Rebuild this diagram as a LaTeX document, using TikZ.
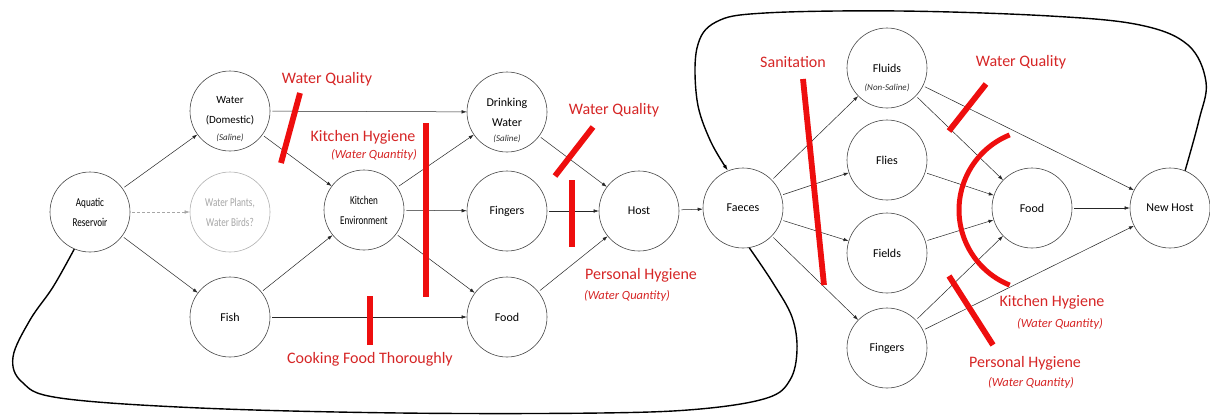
\documentclass[tikz,border=0pt]{standalone}
\usepackage{fontspec}
\setmainfont{Carlito}
\newfontfamily\condfont[FakeStretch=0.76]{Carlito}
\usetikzlibrary{arrows.meta}
\definecolor{lblred}{RGB}{214,38,38}
\definecolor{barred}{RGB}{238,14,14}
\tikzset{
  circ/.style={circle, draw=black!72, line width=0.6pt, minimum size=80pt, inner sep=0pt, align=center, font=\fontsize{12}{20}\selectfont},
  condcirc/.style={circ, font=\condfont\fontsize{12}{20}\selectfont},
  ghost/.style={circ, draw=black!30, text=black!35, font=\condfont\fontsize{12}{20}\selectfont},
  sub/.style={inner sep=0pt, font=\fontsize{9}{10}\selectfont\itshape, text=black!80},
  conn/.style={-{Latex[length=5pt,width=3.5pt]}, line width=0.5pt, draw=black!85, shorten <=2pt},
  dconn/.style={conn, draw=black!35, dash pattern=on 3pt off 2pt},
  bar/.style={draw=barred, line width=5.8pt},
  lbl/.style={text=lblred, inner sep=0pt, font=\fontsize{16}{19}\selectfont},
  sublbl/.style={text=lblred, inner sep=0pt, font=\fontsize{12.5}{15}\selectfont\itshape},
  loopline/.style={line width=1.4pt, draw=black}
}
\begin{document}
\begin{tikzpicture}[x=1pt,y=-1pt]
\useasboundingbox (0,0) rectangle (1210,416);
\fill[white] (0,0) rectangle (1210,416);

% nodes
\node[condcirc] (res) at (90,212) {Aquatic\\Reservoir};
\node[circ, font=\fontsize{11}{20}\selectfont] (water) at (230,111) {Water\\(Domestic)};
\node[sub] (watersub) at (230,138) {(Saline)};
\node[ghost] (plants) at (230,212) {Water Plants,\\Water Birds?};
\node[circ] (fish) at (230,317) {Fish};
\node[condcirc] (kitchen) at (364,210) {Kitchen\\Environment};
\node[circ] (drink) at (507,112) {Drinking\\Water};
\node[sub] (drinksub) at (507,139) {(Saline)};
\node[circ] (fing) at (507,211) {Fingers};
\node[circ] (food) at (507,317) {Food};
\node[circ] (host) at (639,211) {Host};
\node[circ] (fae) at (743,208) {Faeces};
\node[circ] (fluids) at (887,68) {Fluids};
\node[sub] (fluidsub) at (887,88) {(Non-Saline)};
\node[circ] (flies) at (887,160) {Flies};
\node[circ] (fields) at (887,253) {Fields};
\node[circ] (fing2) at (887,348) {Fingers};
\node[circ] (food2) at (1032,208) {Food};
\node[circ] (nh) at (1170,208) {New Host};

% connectors
\draw[conn] (res) -- (water);
\draw[dconn] (res) -- (plants);
\draw[conn] (res) -- (fish);
\draw[conn] (water) -- (drink);
\draw[conn] (water) -- (kitchen);
\draw[conn] (fish) -- (kitchen);
\draw[conn] (fish) -- (food);
\draw[conn] (kitchen) -- (drink);
\draw[conn] (kitchen) -- (fing);
\draw[conn] (kitchen) -- (food);
\draw[conn] (drink) -- (host);
\draw[conn] (fing) -- (host);
\draw[conn] (food) -- (host);
\draw[conn] (host) -- (fae);
\draw[conn] (fae) -- (fluids);
\draw[conn] (fae) -- (flies);
\draw[conn] (fae) -- (fields);
\draw[conn] (fae) -- (fing2);
\draw[conn] (fluids) -- (food2);
\draw[conn] (fluids) -- (nh);
\draw[conn] (flies) -- (food2);
\draw[conn] (fields) -- (food2);
\draw[conn] (fing2) -- (food2);
\draw[conn] (fing2) -- (nh);
\draw[conn] (food2) -- (nh);

% loops
\draw[loopline, -{Latex[length=6pt,width=4pt]}] plot[smooth, tension=0.6] coordinates {(nh.68) (1199,120) (1206,82) (1188,45) (1140,25) (1050,16) (900,11) (765,13) (716,22) (697,48) (697,100) (710,140) (fae.112)};
\draw[loopline] plot[smooth, tension=0.6] coordinates {(res.247) (53,287) (30,320) (13,357) (22,382) (60,398) (200,408) (400,413) (600,413) (700,409) (767,398) (790,380) (797,350) (792,317) (773,283) (fae.-81)};

% red barriers
\draw[bar] (300,93) -- (281,163);
\draw[bar] (426,123) -- (426,297);
\draw[bar] (370,296) -- (370,345);
\draw[bar] (593,127) -- (555,176);
\draw[bar] (572,180) -- (572,247);
\draw[bar] (803,79) -- (824,285);
\draw[bar] (986,84) -- (949,131);
\draw[bar] (949,276) -- (993,345);
\draw[bar, line width=5pt] plot[domain=112:248, samples=50] ({1040+81*cos(\x)}, {210+81*sin(\x)});

% red labels
\node[lbl] (wq1) at (327,79) {Water Quality};
\node[lbl] (kh1) at (363,137) {Kitchen Hygiene};
\node[sublbl] (kh1s) at (374,155) {(Water Quantity)};
\node[lbl] (cook) at (370,359) {Cooking Food Thoroughly};
\node[lbl] (wq2) at (614,110) {Water Quality};
\node[lbl] (ph1) at (641,275) {Personal Hygiene};
\node[sublbl] (ph1s) at (627,296) {(Water Quantity)};
\node[lbl] (san) at (793,62) {Sanitation};
\node[lbl] (wq3) at (1021,62) {Water Quality};
\node[lbl] (kh2) at (1052,302) {Kitchen Hygiene};
\node[sublbl] (kh2s) at (1060,324) {(Water Quantity)};
\node[lbl] (ph2) at (1025,363) {Personal Hygiene};
\node[sublbl] (ph2s) at (1031,383) {(Water Quantity)};
\end{tikzpicture}
\end{document}
